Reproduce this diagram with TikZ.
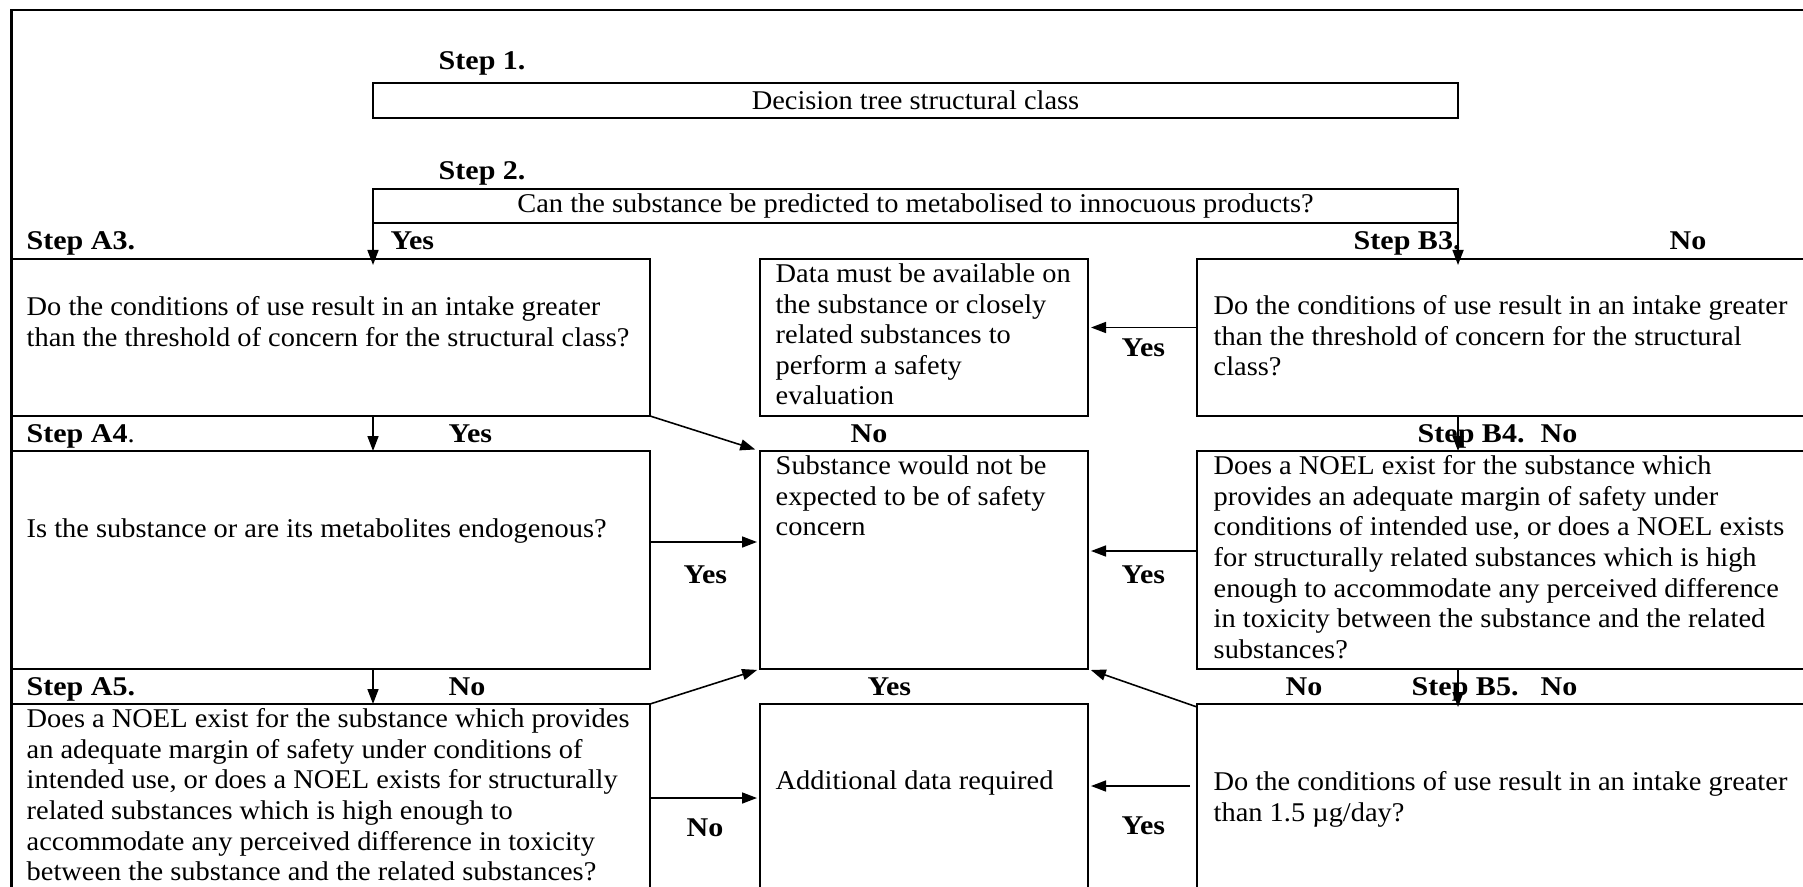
\documentclass[tikz,border=0pt]{standalone}
\usepackage{fontspec}
\setmainfont{Liberation Serif}[FakeStretch=1.05, BoldFeatures={FakeStretch=1.11}]
\usepackage{tikz}
\usetikzlibrary{arrows.meta, positioning}

\begin{document}
\fontsize{7.7}{8.7}\selectfont
\begin{tikzpicture}[x=1mm, y=1mm,
    box/.style={draw, line width=0.7pt, anchor=north west, inner sep=0pt, outer sep=0pt},
    txt/.style={align=left, inner sep=0pt},
    lbl/.style={anchor=base west, inner sep=0pt, font=\bfseries},
    arr/.style={-{Triangle[length=1.5mm, width=1.1mm]}, line width=0.45pt}]
    \useasboundingbox (0,0) rectangle (180.3,88.6);
    \clip (0,0) rectangle (180.3,88.6);
    % frame
    \draw[line width=0.7pt] (1.15,-5) -- (1.15,87.6) -- (190,87.6);

    % steps 1 and 2
    \node[lbl] (l1) at (43.8,81.6) {Step 1.};
    \node[box, minimum width=108.5mm, minimum height=3.5mm] (s1) at (37.3,80.3) {Decision tree structural class};
    \node[lbl] (l2) at (43.8,70.6) {Step 2.};
    \node[box, minimum width=108.5mm, minimum height=3.4mm] (s2) at (37.3,69.7) {Can the substance be predicted to metabolised to innocuous products?};

    % row 3
    \node[box, minimum width=63.85mm, minimum height=15.7mm] (a3) at (1.15,62.7) {};
    \node[box, minimum width=32.8mm, minimum height=15.7mm] (data) at (76,62.7) {};
    \node[box, minimum width=70mm, minimum height=15.7mm] (b3) at (119.7,62.7) {};
    \node[txt, below right=3.7mm and 1.45mm of a3.north west] (a3t) {Do the conditions of use result in an intake greater\\than the threshold of concern for the structural class?};
    \node[txt, below right=0.4mm and 1.5mm of data.north west] (datat) {Data must be available on\\the substance or closely\\related substances to\\perform a safety\\evaluation};
    \node[txt, below right=3.6mm and 1.6mm of b3.north west] (b3t) {Do the conditions of use result in an intake greater\\than the threshold of concern for the structural\\class?};

    % row 4
    \node[box, minimum width=63.85mm, minimum height=21.8mm] (a4) at (1.15,43.5) {};
    \node[box, minimum width=32.8mm, minimum height=21.8mm] (subst) at (76,43.5) {};
    \node[box, minimum width=70mm, minimum height=21.8mm] (b4) at (119.7,43.5) {};
    \node[txt, below right=6.7mm and 1.45mm of a4.north west] (a4t) {Is the substance or are its metabolites endogenous?};
    \node[txt, below right=0.4mm and 1.5mm of subst.north west] (substt) {Substance would not be\\expected to be of safety\\concern};
    \node[txt, below right=0.4mm and 1.6mm of b4.north west] (b4t) {Does a NOEL exist for the substance which\\provides an adequate margin of safety under\\conditions of intended use, or does a NOEL exists\\for structurally related substances which is high\\enough to accommodate any perceived difference\\in toxicity between the substance and the related\\substances?};

    % row 5
    \node[box, minimum width=63.85mm, minimum height=25mm] (a5) at (1.15,18.2) {};
    \node[box, minimum width=32.8mm, minimum height=25mm] (add) at (76,18.2) {};
    \node[box, minimum width=70mm, minimum height=25mm] (b5) at (119.7,18.2) {};
    \node[txt, below right=0.4mm and 1.45mm of a5.north west] (a5t) {Does a NOEL exist for the substance which provides\\an adequate margin of safety under conditions of\\intended use, or does a NOEL exists for structurally\\related substances which is high enough to\\accommodate any perceived difference in toxicity\\between the substance and the related substances?};
    \node[txt, below right=6.6mm and 1.5mm of add.north west] (addt) {Additional data required};
    \node[txt, below right=6.7mm and 1.6mm of b5.north west] (b5t) {Do the conditions of use result in an intake greater\\than 1.5 µg/day?};

    % row labels
    \node[lbl] (lA3) at (2.6,63.6) {Step A3.};
    \node[lbl] (y1) at (39,63.6) {Yes};
    \node[lbl] (lB3) at (135.3,63.6) {Step B3.};
    \node[lbl] (n1) at (166.9,63.6) {No};
    \node[lbl] (lA4) at (2.6,44.4) {Step A4\textmd{.}};
    \node[lbl] (y2) at (44.8,44.4) {Yes};
    \node[lbl] (n2) at (85,44.4) {No};
    \node[lbl] (lB4) at (141.7,44.4) {Step B4.};
    \node[lbl] (n3) at (154,44.4) {No};
    \node[lbl] (lA5) at (2.6,19.1) {Step A5.};
    \node[lbl] (n4) at (44.8,19.1) {No};
    \node[lbl] (y3) at (86.7,19.1) {Yes};
    \node[lbl] (n5) at (128.5,19.1) {No};
    \node[lbl] (lB5) at (141.1,19.1) {Step B5.};
    \node[lbl] (n6) at (154,19.1) {No};
    \node[lbl] (y4) at (112.1,53.0) {Yes};
    \node[lbl] (y5) at (68.3,30.3) {Yes};
    \node[lbl] (y6) at (112.1,30.3) {Yes};
    \node[lbl] (n7) at (68.6,5.0) {No};
    \node[lbl] (y7) at (112.1,5.2) {Yes};

    % arrows down
    \draw[arr, shorten >=-0.6mm] (s2.south west) -- (a3.north -| s2.south west);
    \draw[arr, shorten >=-0.6mm] (s2.south east) -- (b3.north -| s2.south east);
    \draw[arr] (a3.south -| s2.south west) -- (a4.north -| s2.south west);
    \draw[arr] (a4.south -| s2.south west) -- (a5.north -| s2.south west);
    \draw[arr] (b3.south -| s2.south east) -- (b4.north -| s2.south east);
    \draw[arr, shorten >=-0.3mm] (b4.south -| s2.south east) -- (b5.north -| s2.south east);

    % arrows across
    \draw[arr] ([yshift=1mm]b3.west) -- ([yshift=1mm,xshift=0.3mm]data.east);
    \draw[arr, shorten >=0.5mm] (a3.south east) -- (subst.north west);
    \draw[arr] ([yshift=1.8mm]a4.east) -- ([yshift=1.8mm,xshift=-0.3mm]subst.west);
    \draw[arr] ([yshift=0.9mm]b4.west) -- ([yshift=0.9mm,xshift=0.3mm]subst.east);
    \draw[arr, shorten >=0.3mm] (a5.north east) -- (subst.south west);
    \draw[arr, shorten >=0.3mm] ([yshift=-0.3mm]b5.north west) -- (subst.south east);
    \draw[arr] ([yshift=-9.4mm]a5.north east) -- ([yshift=-9.4mm,xshift=-0.3mm]add.north west);
    \draw[arr, shorten <=0.7mm] ([yshift=-8.2mm]b5.north west) -- ([yshift=-8.2mm,xshift=0.3mm]add.north east);
\end{tikzpicture}
\end{document}
